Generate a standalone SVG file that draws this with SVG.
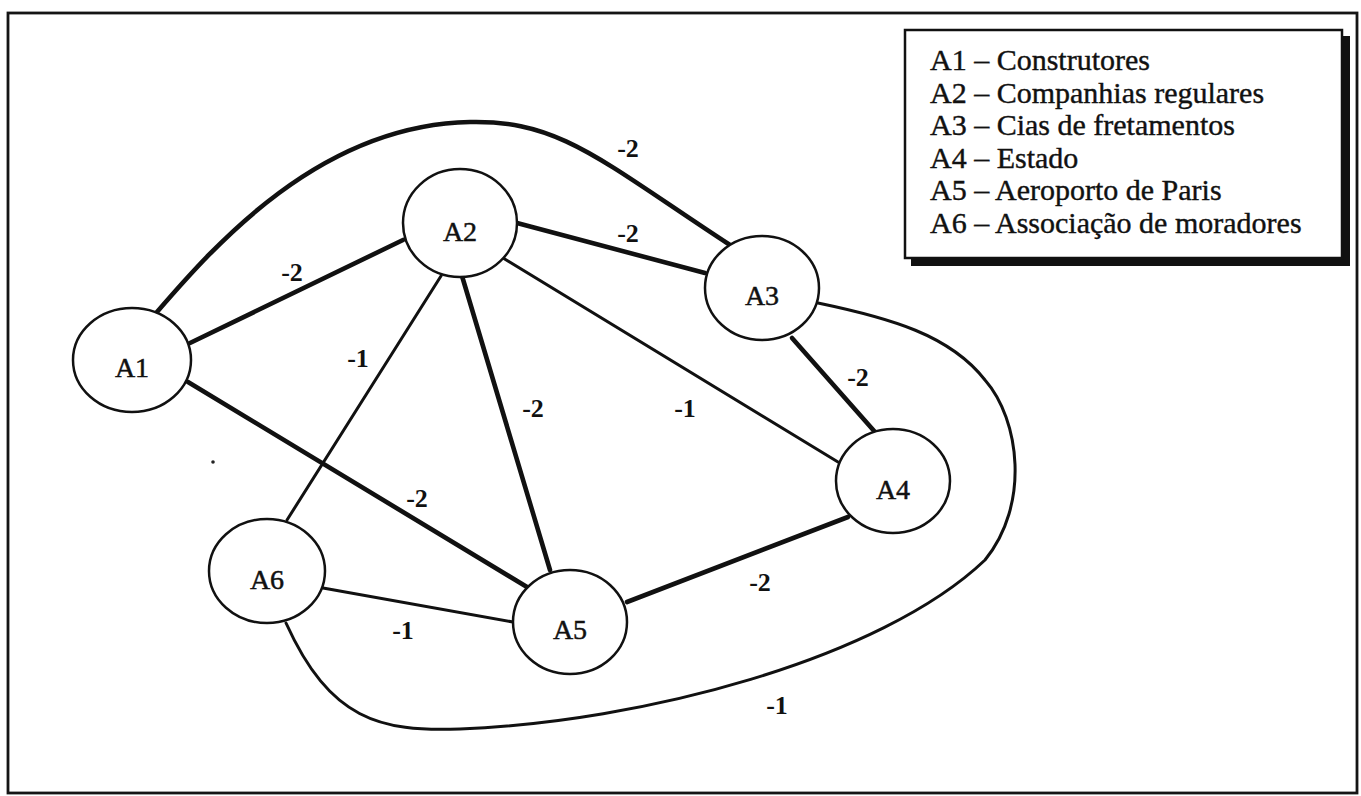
<svg xmlns="http://www.w3.org/2000/svg" width="1361" height="796" viewBox="0 0 1361 796">
  <style>
    .frame { fill: #fff; stroke: #151515; stroke-width: 2.8; }
    .node ellipse { fill: #fff; stroke: #111; stroke-width: 2.5; }
    .node text { font-family: "Liberation Serif", "Times New Roman", serif; font-size: 28px; fill: #111; stroke: #111; stroke-width: 0.5; text-anchor: middle; }
    .strong { fill: none; stroke: #111; stroke-width: 4.6; stroke-linecap: round; }
    .weak { fill: none; stroke: #111; stroke-width: 3; stroke-linecap: round; }
    .wlabel { font-family: "Liberation Serif", "Times New Roman", serif; font-size: 26px; font-weight: bold; fill: #111; text-anchor: middle; }
    .legend-text { font-family: "Liberation Serif", "Times New Roman", serif; font-size: 30px; fill: #111; stroke: #111; stroke-width: 0.4; }
  </style>

  <!-- page frame -->
  <rect class="frame" x="8" y="13" width="1349" height="780"/>

  <!-- relations between actors -->
  <g id="connectors">
    <line class="strong" x1="190" y1="343" x2="403" y2="240"/>
    <path class="strong" d="M157,312 C215,245 320,125 470,122 C560,120 600,160 730,245"/>
    <line class="strong" x1="517" y1="223" x2="705" y2="273"/>
    <line class="weak" x1="503" y1="258" x2="838" y2="462"/>
    <line class="strong" x1="462" y1="276" x2="550" y2="570"/>
    <line class="weak" x1="441" y1="276" x2="287" y2="520"/>
    <line class="strong" x1="188" y1="382" x2="527" y2="587"/>
    <line class="strong" x1="792" y1="338" x2="875" y2="432"/>
    <line class="strong" x1="627" y1="602" x2="848" y2="517"/>
    <line class="weak" x1="323" y1="588" x2="513" y2="622"/>
    <path class="weak" d="M286,623 C330,720 380,732 460,729 C640,722 880,660 985,560 C1030,505 1020,420 985,380 C950,335 890,318 818,303"/>

    <text class="wlabel" x="628" y="157">-2</text>
    <text class="wlabel" x="628" y="242">-2</text>
    <text class="wlabel" x="292" y="281">-2</text>
    <text class="wlabel" x="358" y="367">-1</text>
    <text class="wlabel" x="533" y="417">-2</text>
    <text class="wlabel" x="685" y="417">-1</text>
    <text class="wlabel" x="858" y="386">-2</text>
    <text class="wlabel" x="417" y="507">-2</text>
    <text class="wlabel" x="760" y="591">-2</text>
    <text class="wlabel" x="403" y="639">-1</text>
    <text class="wlabel" x="777" y="714">-1</text>
  </g>

  <g id="A1" class="node">
    <ellipse cx="132" cy="360" rx="59" ry="52"/>
    <text x="132" y="377">A1</text>
  </g>
  <g id="A2" class="node">
    <ellipse cx="460" cy="223" rx="57" ry="54"/>
    <text x="460" y="241">A2</text>
  </g>
  <g id="A3" class="node">
    <ellipse cx="762" cy="288" rx="57" ry="52"/>
    <text x="762" y="305">A3</text>
  </g>
  <g id="A4" class="node">
    <ellipse cx="893" cy="481" rx="57" ry="52"/>
    <text x="893" y="499">A4</text>
  </g>
  <g id="A5" class="node">
    <ellipse cx="570" cy="622" rx="57" ry="52"/>
    <text x="570" y="639">A5</text>
  </g>
  <g id="A6" class="node">
    <ellipse cx="267" cy="571" rx="58" ry="52"/>
    <text x="267" y="589">A6</text>
  </g>

  <!-- stray speck on the page -->
  <circle cx="213" cy="462" r="1.8" fill="#222"/>

  <!-- key of actors -->
  <g id="legend">
    <rect x="911" y="36" width="439" height="230" fill="#111"/>
    <rect x="905" y="30" width="437" height="228" fill="#fff" stroke="#111" stroke-width="2.5"/>
    <text class="legend-text" x="930" y="70">A1 – Construtores</text>
    <text class="legend-text" x="930" y="102.5">A2 – Companhias regulares</text>
    <text class="legend-text" x="930" y="135">A3 – Cias de fretamentos</text>
    <text class="legend-text" x="930" y="167.5">A4 – Estado</text>
    <text class="legend-text" x="930" y="200">A5 – Aeroporto de Paris</text>
    <text class="legend-text" x="930" y="232.5">A6 – Associação de moradores</text>
  </g>
</svg>
